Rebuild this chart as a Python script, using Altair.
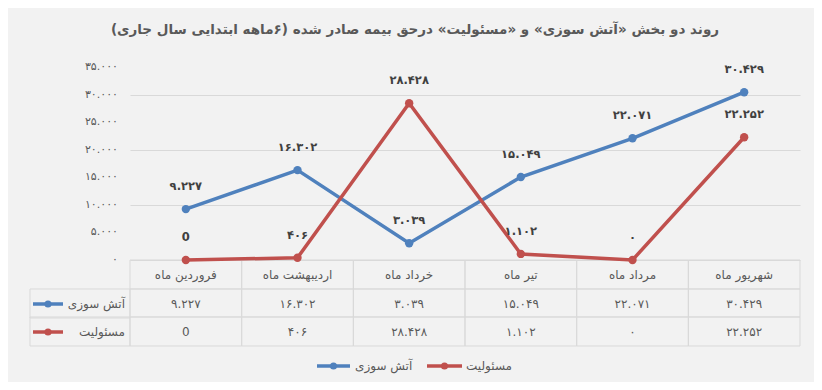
import altair as alt
import pandas as pd

months = ["فروردین ماه", "اردیبهشت ماه", "خرداد ماه", "تیر ماه", "مرداد ماه", "شهریور ماه"]
series_names = ["آتش سوزی", "مسئولیت"]
fire = [9227, 16302, 3039, 15049, 22071, 30429]
liab = [0, 406, 28428, 1102, 0, 22252]
fire_labels = ["۹.۲۲۷", "۱۶.۳۰۲", "۳.۰۳۹", "۱۵.۰۴۹", "۲۲.۰۷۱", "۳۰.۴۲۹"]
liab_labels = ["0", "۴۰۶", "۲۸.۴۲۸", "۱.۱۰۲", "۰", "۲۲.۲۵۲"]
y_ticks = [0, 5000, 10000, 15000, 20000, 25000, 30000, 35000]
y_tick_labels = ["۰", "۵.۰۰۰", "۱۰.۰۰۰", "۱۵.۰۰۰", "۲۰.۰۰۰", "۲۵.۰۰۰", "۳۰.۰۰۰", "۳۵.۰۰۰"]
title_text = "روند دو بخش «آتش سوزی» و «مسئولیت» درحق بیمه صادر شده (۶ماهه ابتدایی سال جاری)"
colors = ["#4F81BD", "#C0504D"]

FONT = "DejaVu Sans"
GRID = "#d9d9d9"
TXT = "#595959"
W, H = 670, 193

rows = []
for s, vals, labs in [(series_names[0], fire, fire_labels), (series_names[1], liab, liab_labels)]:
    for m, v, l in zip(months, vals, labs):
        rows.append({"month": m, "series": s, "value": v, "label": l})
df = pd.DataFrame(rows)
df_ticks = pd.DataFrame({"value": y_ticks, "label": y_tick_labels})
df_months = pd.DataFrame({"month": months})
df_series = pd.DataFrame({"series": series_names})

xs = alt.Scale(paddingInner=0, paddingOuter=0)
xenc = alt.X("month:N", sort=months, scale=xs, axis=None)
yenc = alt.Y("value:Q", scale=alt.Scale(domain=[0, 35000], nice=False),
             axis=alt.Axis(values=y_ticks, labels=False, ticks=False, domain=False,
                           grid=True, gridColor=GRID, title=None))
cscale = alt.Scale(domain=series_names, range=colors)
cenc = alt.Color("series:N", scale=cscale, legend=None)

lines = alt.Chart(df).mark_line(strokeWidth=3.5).encode(x=xenc, y=yenc, color=cenc, detail="series:N")
pts = alt.Chart(df).mark_circle(size=70, opacity=1).encode(x=xenc, y="value:Q", color=cenc)

labels = alt.Chart(df).mark_text(dy=-22, fontSize=11.5, fontWeight="bold", color="#404040", font=FONT).encode(
    x=xenc, y=alt.Y("value:Q"), text="label:N")

ylabels = alt.Chart(df_ticks).mark_text(align="right", baseline="middle", fontSize=11, color=TXT, font=FONT).encode(
    x=alt.value(-12), y=alt.Y("value:Q"), text="label:N")

# table cells (header + two data rows)
cells = []
for y0, y1 in [(193, 222), (222, 250), (250, 279)]:
    cells.append(alt.Chart(df_months).mark_rect(fillOpacity=0, stroke=GRID, strokeWidth=1).encode(
        x=xenc, y=alt.value(y0), y2=alt.value(y1)))

header = alt.Chart(df_months).mark_text(fontSize=12, color=TXT, font=FONT, baseline="middle").encode(
    x=xenc, y=alt.value(208), text="month:N")
row_fire = alt.Chart(df).transform_filter(alt.datum.series == series_names[0]).mark_text(
    fontSize=12, color=TXT, font=FONT, baseline="middle").encode(
    x=xenc, y=alt.value(237), text="label:N")
row_liab = alt.Chart(df).transform_filter(alt.datum.series == series_names[1]).mark_text(
    fontSize=12, color=TXT, font=FONT, baseline="middle").encode(
    x=xenc, y=alt.value(265), text="label:N")

decor = []
for i, yy in enumerate([237, 265]):
    sel = alt.Chart(df_series).transform_filter(alt.datum.series == series_names[i])
    decor.append(sel.mark_rect(fillOpacity=0, stroke=GRID, strokeWidth=1).encode(
        x=alt.value(-100), x2=alt.value(0), y=alt.value(yy - 15), y2=alt.value(yy + 14)))
    decor.append(sel.mark_rule(strokeWidth=3.5).encode(
        x=alt.value(-97), x2=alt.value(-67), y=alt.value(yy), color=cenc))
    decor.append(sel.mark_circle(size=50, opacity=1).encode(
        x=alt.value(-82), y=alt.value(yy), color=cenc))
    decor.append(sel.mark_text(align="right", baseline="middle", fontSize=12, color=TXT, font=FONT).encode(
        x=alt.value(-5), y=alt.value(yy), text="series:N"))

# legend
for i, (x0, x1, tx) in enumerate([(187, 220, 225), (297, 332, 336)]):
    sel = alt.Chart(df_series).transform_filter(alt.datum.series == series_names[i])
    decor.append(sel.mark_rule(strokeWidth=3.5).encode(
        x=alt.value(x0), x2=alt.value(x1), y=alt.value(299), color=cenc))
    decor.append(sel.mark_circle(size=50, opacity=1).encode(
        x=alt.value((x0 + x1) / 2), y=alt.value(299), color=cenc))
    decor.append(sel.mark_text(align="left", baseline="middle", fontSize=12, color=TXT, font=FONT).encode(
        x=alt.value(tx), y=alt.value(299), text="series:N"))

title = alt.Chart(pd.DataFrame({"t": [title_text]})).mark_text(
    align="center", baseline="middle", fontSize=13.5, fontWeight="bold", color=TXT, font=FONT).encode(
    x=alt.value(285), y=alt.value(-37), text="t:N")

chart = alt.layer(
    *cells, lines, pts, header, row_fire, row_liab, ylabels, labels, *decor, title
).properties(
    width=W, height=H,
    padding={"left": 122, "top": 59, "right": 14, "bottom": 122},
    autosize=alt.AutoSizeParams(type="none"),
    background="#f2f2f2",
).configure_view(strokeWidth=0)

chart.save("out.html", embed_options={"renderer": "svg", "actions": False})
